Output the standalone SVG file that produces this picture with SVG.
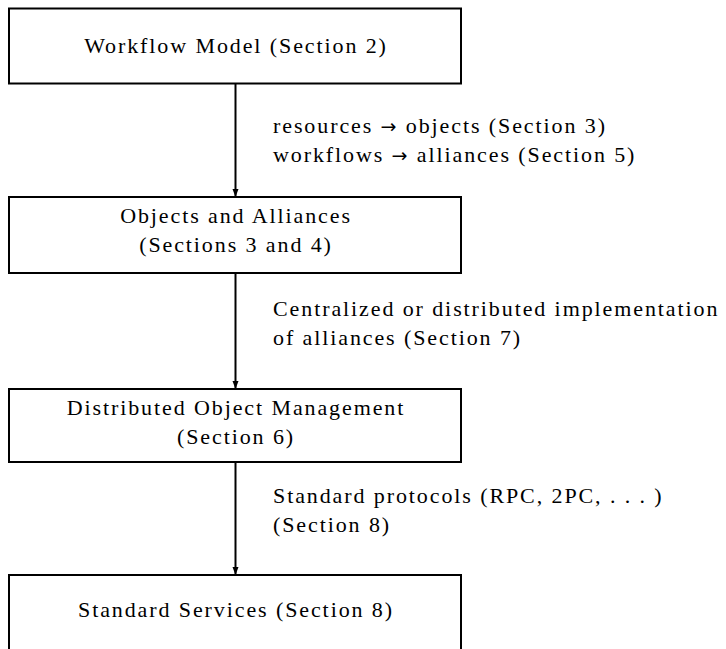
<svg xmlns="http://www.w3.org/2000/svg" width="726" height="649" viewBox="0 0 726 649">
<style>
.box{fill:#fff;stroke:#000;stroke-width:2}
.t{font-family:"Liberation Serif","DejaVu Serif",serif;font-size:22px;fill:#000;letter-spacing:1.9px}
.m{text-anchor:middle}
.ar{font-family:"DejaVu Sans",sans-serif;font-size:19px}
.c{stroke:#000;stroke-width:2;fill:none}
</style>
<defs>
<marker id="ah" markerWidth="8" markerHeight="10" refX="8" refY="3" orient="auto" markerUnits="userSpaceOnUse" viewBox="0 0 8 6">
<path d="M0,0 L8,3 L0,6 Z" fill="#000"/>
</marker>
</defs>
<rect width="726" height="649" fill="#fff"/>
<g id="connectors">
<line class="c" x1="235.5" y1="83" x2="235.5" y2="197" marker-end="url(#ah)"/>
<line class="c" x1="235.5" y1="273" x2="235.5" y2="389" marker-end="url(#ah)"/>
<line class="c" x1="235.5" y1="462" x2="235.5" y2="575" marker-end="url(#ah)"/>
</g>
<g id="n1">
<rect class="box" x="9" y="8.5" width="452" height="75"/>
<text class="t m" x="236" y="53">Workflow Model (Section 2)</text>
</g>
<g id="n2">
<rect class="box" x="9" y="197" width="452" height="76"/>
<text class="t m" x="236" y="223">Objects and Alliances</text>
<text class="t m" x="236" y="252">(Sections 3 and 4)</text>
</g>
<g id="n3">
<rect class="box" x="9" y="389" width="452" height="73"/>
<text class="t m" x="236" y="415">Distributed Object Management</text>
<text class="t m" x="236" y="444">(Section 6)</text>
</g>
<g id="n4">
<path class="box" d="M9,660 V575 H461 V660"/>
<text class="t m" x="236" y="617">Standard Services (Section 8)</text>
</g>
<g id="labels">
<text class="t" x="273" y="133">resources <tspan class="ar">→</tspan> objects (Section 3)</text>
<text class="t" x="273" y="162">workflows <tspan class="ar">→</tspan> alliances (Section 5)</text>
<text class="t" x="273" y="316">Centralized or distributed implementation</text>
<text class="t" x="273" y="345">of alliances (Section 7)</text>
<text class="t" x="273" y="503">Standard protocols (RPC, 2PC, . . . )</text>
<text class="t" x="273" y="532">(Section 8)</text>
</g>
</svg>
